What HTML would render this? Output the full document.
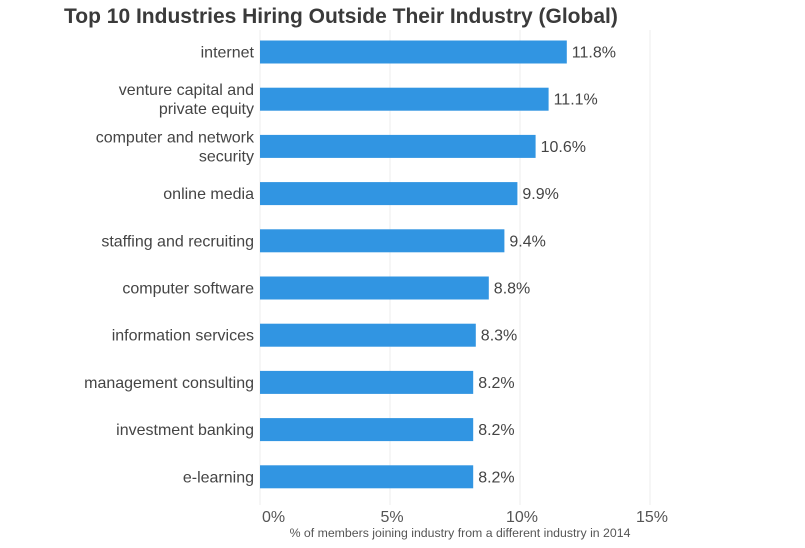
<!DOCTYPE html>
<html><head><meta charset="utf-8"><style>
body{margin:0;background:#fff}
svg text{font-family:"Liberation Sans",sans-serif}
</style></head><body>
<svg id="chart" width="805" height="543" xmlns="http://www.w3.org/2000/svg">
<text x="64" y="23" font-size="21" fill="#3a3a3a" style="font-weight:600">Top 10 Industries Hiring Outside Their Industry (Global)</text>
<g id="grid"></g><g id="bars"></g><g id="labels"></g>
<text x="460" y="537" font-size="12.3" fill="#555" text-anchor="middle">% of members joining industry from a different industry in 2014</text>
</svg>
<script>
const categories=[["internet"],["venture capital and","private equity"],["computer and network","security"],["online media"],["staffing and recruiting"],["computer software"],["information services"],["management consulting"],["investment banking"],["e-learning"]];
const values=[11.8,11.1,10.6,9.9,9.4,8.8,8.3,8.2,8.2,8.2];
const valueLabels=["11.8%","11.1%","10.6%","9.9%","9.4%","8.8%","8.3%","8.2%","8.2%","8.2%"];
const ticks=[0,5,10,15];
const tickLabels=["0%","5%","10%","15%"];
const NS="http://www.w3.org/2000/svg";
const x=v=>260+v*26;
const yc=i=>52+i*47.2;
function mk(t,a,p){const e=document.createElementNS(NS,t);for(const k in a)e.setAttribute(k,a[k]);p.appendChild(e);return e;}
const G=document.getElementById('grid'),B=document.getElementById('bars'),L=document.getElementById('labels');
ticks.forEach((t,i)=>{
 const l=mk('line',{x1:x(t),x2:x(t),y1:30,y2:505,stroke:'#ececec','stroke-width':1},G);
 
 
 const tx=mk('text',{x:i==0?x(t)+2:x(t)+2,y:522,'font-size':16,fill:'#555','text-anchor':i==0?'start':'middle'},G);
 tx.textContent=tickLabels[i];
 
 
});
values.forEach((v,i)=>{
 const r=mk('rect',{x:x(0),y:yc(i)-11.5,width:x(v)-x(0),height:23,fill:'#3195e2'},B);
 
 
 const vl=mk('text',{x:x(v)+5,y:yc(i)+5.5,'font-size':16,fill:'#444'},L);
 vl.textContent=valueLabels[i];
 
 
 const c=categories[i];
 c.forEach((s,j)=>{
  const cy=c.length==1?yc(i)+5.5:yc(i)-4+j*19;
  const t=mk('text',{x:254,y:cy,'font-size':16,fill:'#444','text-anchor':'end'},L);
  t.textContent=s;
  
  
 });
});
</script>
</body></html>
